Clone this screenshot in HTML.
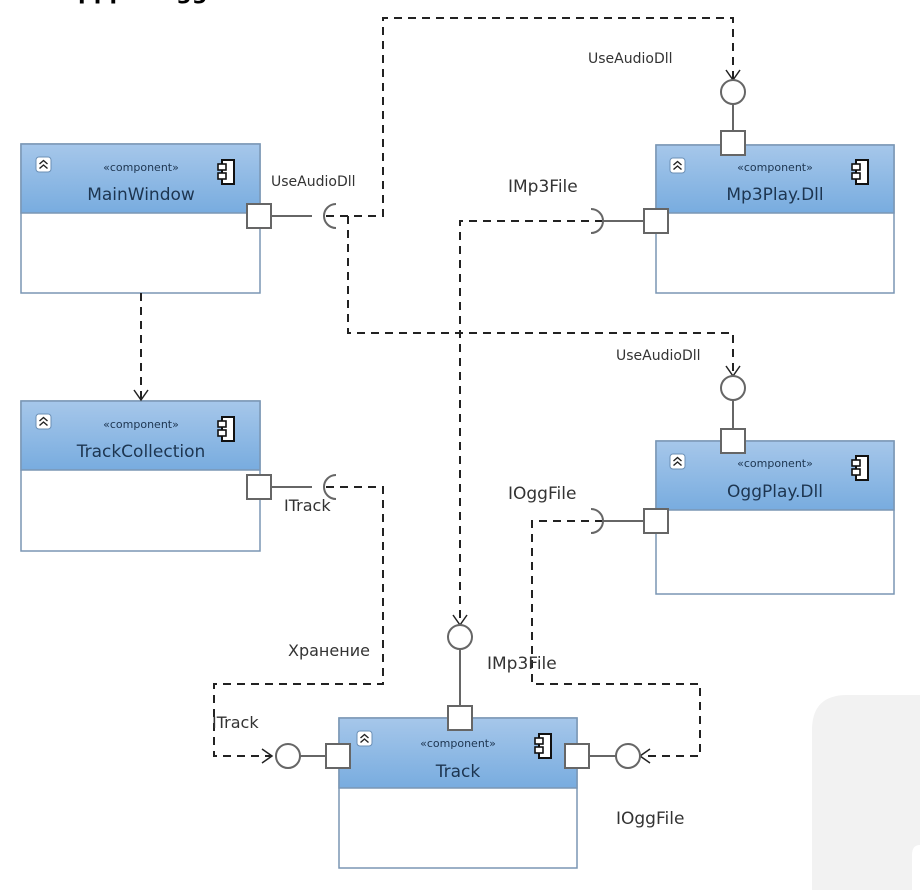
<!DOCTYPE html>
<html><head><meta charset="utf-8"><style>
body{margin:0;background:#fff;width:920px;height:890px;overflow:hidden}
svg{display:block}
text{font-family:"DejaVu Sans","Liberation Sans",sans-serif}
</style></head><body>
<svg width="920" height="890" viewBox="0 0 920 890" xmlns="http://www.w3.org/2000/svg">
<defs>
<linearGradient id="hg" x1="0" y1="0" x2="0" y2="1">
<stop offset="0" stop-color="#a6c7ea"/><stop offset="1" stop-color="#78acdf"/>
</linearGradient>
<g id="cicon"><rect x="4" y="0" width="12" height="24" fill="#fff" stroke="#111" stroke-width="2"/><rect x="0" y="4" width="8" height="6" fill="#fff" stroke="#111" stroke-width="1.6"/><rect x="0" y="13" width="8" height="6" fill="#fff" stroke="#111" stroke-width="1.6"/></g>
<g id="eicon"><rect x="0" y="0" width="15" height="15" rx="3" fill="#fff" stroke="#6b8fb5" stroke-width="1"/><path d="M3.5 7 L7.5 3.5 L11.5 7 M3.5 11.5 L7.5 8 L11.5 11.5" fill="none" stroke="#222" stroke-width="1.4"/></g>
</defs>
<path d="M812 890 V730 Q812 695 847 695 H920 V845 Q912 845 912 855 V890 Z" fill="#f2f2f2"/>
<text x="78" y="-1" font-family="Liberation Serif" font-weight="bold" font-size="22" fill="#000">ppp</text>
<text x="176" y="-1" font-family="Liberation Serif" font-weight="bold" font-size="22" fill="#000">gg</text>

<g font-size="15" fill="#333">
<g>
<rect x="21" y="144" width="239" height="149" fill="#fff" stroke="#7a96b4" stroke-width="1.5"/>
<rect x="21" y="144" width="239" height="69" fill="url(#hg)" stroke="#7a96b4" stroke-width="1.5"/>
<use href="#eicon" x="36" y="157"/><use href="#cicon" x="218" y="160"/>
<text x="141" y="171" font-size="11" text-anchor="middle" fill="#1d3550">«component»</text>
<text x="141" y="200" font-size="17" text-anchor="middle" fill="#1d3550">MainWindow</text>
</g>
<g>
<rect x="21" y="401" width="239" height="150" fill="#fff" stroke="#7a96b4" stroke-width="1.5"/>
<rect x="21" y="401" width="239" height="69" fill="url(#hg)" stroke="#7a96b4" stroke-width="1.5"/>
<use href="#eicon" x="36" y="414"/><use href="#cicon" x="218" y="417"/>
<text x="141" y="428" font-size="11" text-anchor="middle" fill="#1d3550">«component»</text>
<text x="141" y="457" font-size="17" text-anchor="middle" fill="#1d3550">TrackCollection</text>
</g>
<g>
<rect x="656" y="145" width="238" height="148" fill="#fff" stroke="#7a96b4" stroke-width="1.5"/>
<rect x="656" y="145" width="238" height="68" fill="url(#hg)" stroke="#7a96b4" stroke-width="1.5"/>
<use href="#eicon" x="670" y="158"/><use href="#cicon" x="852" y="160"/>
<text x="775" y="171" font-size="11" text-anchor="middle" fill="#1d3550">«component»</text>
<text x="775" y="200" font-size="17" text-anchor="middle" fill="#1d3550">Mp3Play.Dll</text>
</g>
<g>
<rect x="656" y="441" width="238" height="153" fill="#fff" stroke="#7a96b4" stroke-width="1.5"/>
<rect x="656" y="441" width="238" height="69" fill="url(#hg)" stroke="#7a96b4" stroke-width="1.5"/>
<use href="#eicon" x="670" y="454"/><use href="#cicon" x="852" y="456"/>
<text x="775" y="467" font-size="11" text-anchor="middle" fill="#1d3550">«component»</text>
<text x="775" y="497" font-size="17" text-anchor="middle" fill="#1d3550">OggPlay.Dll</text>
</g>
<g>
<rect x="339" y="718" width="238" height="150" fill="#fff" stroke="#7a96b4" stroke-width="1.5"/>
<rect x="339" y="718" width="238" height="70" fill="url(#hg)" stroke="#7a96b4" stroke-width="1.5"/>
<use href="#eicon" x="357" y="731"/><use href="#cicon" x="535" y="734"/>
<text x="458" y="747" font-size="11" text-anchor="middle" fill="#1d3550">«component»</text>
<text x="458" y="777" font-size="17" text-anchor="middle" fill="#1d3550">Track</text>
</g>

<g fill="none" stroke="#222" stroke-width="2" stroke-dasharray="8,6">
<path d="M326 216 H383 V18 H733 V80"/>
<path d="M348 216 V333 H733 V376"/>
<path d="M141 293 V400"/>
<path d="M603 221 H460 V625"/>
<path d="M603 521 H532 V684 H700 V756 H645"/>
<path d="M326 487 H383 V684 H214 V756 H272"/>
</g>
<g fill="none" stroke="#222" stroke-width="1.5">
<path d="M726 70 L733 80 L740 70"/>
<path d="M726 366 L733 376 L740 366"/>
<path d="M134 390 L141 400 L148 390"/>
<path d="M453 615 L460 625 L467 615"/>
<path d="M262 749 L272 756 L262 763"/>
<path d="M650 749 L640 756 L650 763"/>
</g>
<g fill="#fff" stroke="#666" stroke-width="2">
<path d="M272 216 H312"/><path d="M336 228 A12 12 0 0 1 336 204" fill="none"/>
<path d="M272 487 H312"/><path d="M336 499 A12 12 0 0 1 336 475" fill="none"/>
<path d="M643 221 H603"/><path d="M591 209 A12 12 0 0 1 591 233" fill="none"/>
<path d="M643 521 H603"/><path d="M591 509 A12 12 0 0 1 591 533" fill="none"/>
<path d="M733 104 V131"/><circle cx="733" cy="92" r="12"/>
<path d="M733 400 V429"/><circle cx="733" cy="388" r="12"/>
<path d="M460 649 V706"/><circle cx="460" cy="637" r="12"/>
<path d="M300 756 H326"/><circle cx="288" cy="756" r="12"/>
<path d="M590 756 H616"/><circle cx="628" cy="756" r="12"/>
<rect x="247" y="204" width="24" height="24"/>
<rect x="247" y="475" width="24" height="24"/>
<rect x="644" y="209" width="24" height="24"/>
<rect x="644" y="509" width="24" height="24"/>
<rect x="721" y="131" width="24" height="24"/>
<rect x="721" y="429" width="24" height="24"/>
<rect x="448" y="706" width="24" height="24"/>
<rect x="326" y="744" width="24" height="24"/>
<rect x="565" y="744" width="24" height="24"/>
</g>
<text x="271" y="186" font-size="14">UseAudioDll</text>
<text x="588" y="63" font-size="14">UseAudioDll</text>
<text x="616" y="360" font-size="14">UseAudioDll</text>
<text x="508" y="192" font-family="DejaVu Sans Mono,Liberation Mono,monospace" font-size="17">IMp3File</text>
<text x="508" y="499" font-family="DejaVu Sans Mono,Liberation Mono,monospace" font-size="17">IOggFile</text>
<text x="487" y="669" font-family="DejaVu Sans Mono,Liberation Mono,monospace" font-size="17">IMp3File</text>
<text x="616" y="824" font-family="DejaVu Sans Mono,Liberation Mono,monospace" font-size="17">IOggFile</text>
<text x="284" y="511" font-size="16">ITrack</text>
<text x="212" y="728" font-size="16">ITrack</text>
<text x="288" y="656" font-size="16">Хранение</text>
</g>
</svg>
</body></html>
